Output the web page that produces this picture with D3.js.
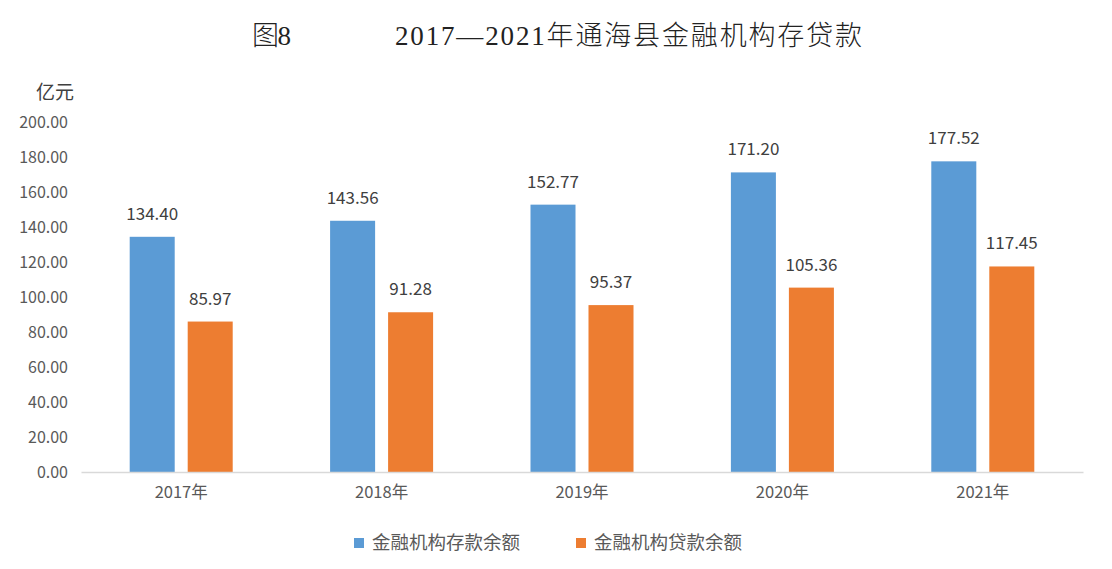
<!DOCTYPE html>
<html>
<head>
<meta charset="utf-8">
<script src="https://cdn.jsdelivr.net/npm/d3@7"></script>
<style>
  body { margin: 0; background: #fff; }
  text { font-family: "Noto Sans CJK SC", "Noto Sans", sans-serif; }
</style>
</head>
<body>
<div id="chart"></div>
<script>
// data
const years = ["2017年", "2018年", "2019年", "2020年", "2021年"];
const seriesNames = ["金融机构存款余额", "金融机构贷款余额"];
const deposits = [134.40, 143.56, 152.77, 171.20, 177.52];
const loans = [85.97, 91.28, 95.37, 105.36, 117.45];
const yTicks = [0, 20, 40, 60, 80, 100, 120, 140, 160, 180, 200];
const colors = ["#5B9BD5", "#ED7D31"];

const width = 1112, height = 569;
const margin = {top: 122, right: 29, bottom: 97, left: 81};

const svg = d3.select("#chart").append("svg")
    .attr("width", width)
    .attr("height", height);

// title, serif-ish, stretched to the reference width
const titleFont = "'Liberation Serif', 'Noto Sans CJK SC', serif";
svg.append("text")
    .attr("x", 252).attr("y", 45)
    .attr("font-size", 27)
    .attr("font-weight", 300)
    .attr("fill", "#222")
    .attr("textLength", 39)
    .style("font-family", titleFont)
    .text("图8");
svg.append("text")
    .attr("x", 395).attr("y", 45)
    .attr("font-size", 27)
    .attr("font-weight", 300)
    .attr("fill", "#222")
    .attr("textLength", 467)
    .attr("lengthAdjust", "spacing")
    .style("font-family", titleFont)
    .text("2017—2021年通海县金融机构存贷款");

// scales
const x = d3.scaleBand()
    .domain(years)
    .range([margin.left, width - margin.right])
    .paddingInner(0.486)
    .paddingOuter(0.243);

const xs = d3.scaleBand()
    .domain([0, 1])
    .range([0, x.bandwidth()])
    .paddingInner(0.224);

const y = d3.scaleLinear()
    .domain([0, 200])
    .range([height - margin.bottom, margin.top]);

// y axis labels (no line)
svg.append("g").selectAll("text")
    .data(yTicks)
    .join("text")
    .attr("x", 68)
    .attr("y", d => y(d))
    .attr("dy", "0.35em")
    .attr("text-anchor", "end")
    .attr("font-size", 16)
    .attr("fill", "#595959")
    .text(d => d3.format(".2f")(d));

svg.append("text")
    .attr("x", 36).attr("y", 99)
    .attr("font-size", 19)
    .attr("fill", "#404040")
    .text("亿元");

// bars
const rows = years.map((yr, i) => ({year: yr, vals: [deposits[i], loans[i]]}));

const groups = svg.append("g").selectAll("g")
    .data(rows)
    .join("g")
    .attr("transform", d => `translate(${x(d.year)},0)`);

groups.selectAll("rect")
    .data(d => d.vals.map((v, k) => ({k, v})))
    .join("rect")
    .attr("x", d => xs(d.k))
    .attr("y", d => y(d.v))
    .attr("width", xs.bandwidth())
    .attr("height", d => y(0) - y(d.v))
    .attr("fill", d => colors[d.k]);

groups.selectAll("text.val")
    .data(d => d.vals.map((v, k) => ({k, v})))
    .join("text")
    .attr("class", "val")
    .attr("x", d => xs(d.k) + xs.bandwidth() / 2)
    .attr("y", d => y(d.v) - 17)
    .attr("text-anchor", "middle")
    .attr("font-size", 17)
    .attr("fill", "#404040")
    .text(d => d3.format(".2f")(d.v));

// x axis
const xAxis = svg.append("g")
    .attr("transform", `translate(0,${y(0)})`)
    .call(d3.axisBottom(x).tickSize(0).tickPadding(14));
xAxis.select(".domain").attr("stroke", "#d9d9d9").attr("stroke-width", 1.5);
xAxis.selectAll("text")
    .attr("font-size", 16.5)
    .attr("fill", "#595959")
    .style("font-family", "'Noto Sans CJK SC', sans-serif");

// legend
const legendX = [354, 576];
const legend = svg.append("g").selectAll("g")
    .data(seriesNames)
    .join("g")
    .attr("transform", (d, i) => `translate(${legendX[i]},543)`);
legend.append("rect")
    .attr("x", 0).attr("y", -5)
    .attr("width", 10).attr("height", 10)
    .attr("fill", (d, i) => colors[i]);
legend.append("text")
    .attr("x", 18).attr("y", 0)
    .attr("dy", "0.35em")
    .attr("font-size", 18.5)
    .attr("fill", "#595959")
    .text(d => d);
</script>
</body>
</html>
